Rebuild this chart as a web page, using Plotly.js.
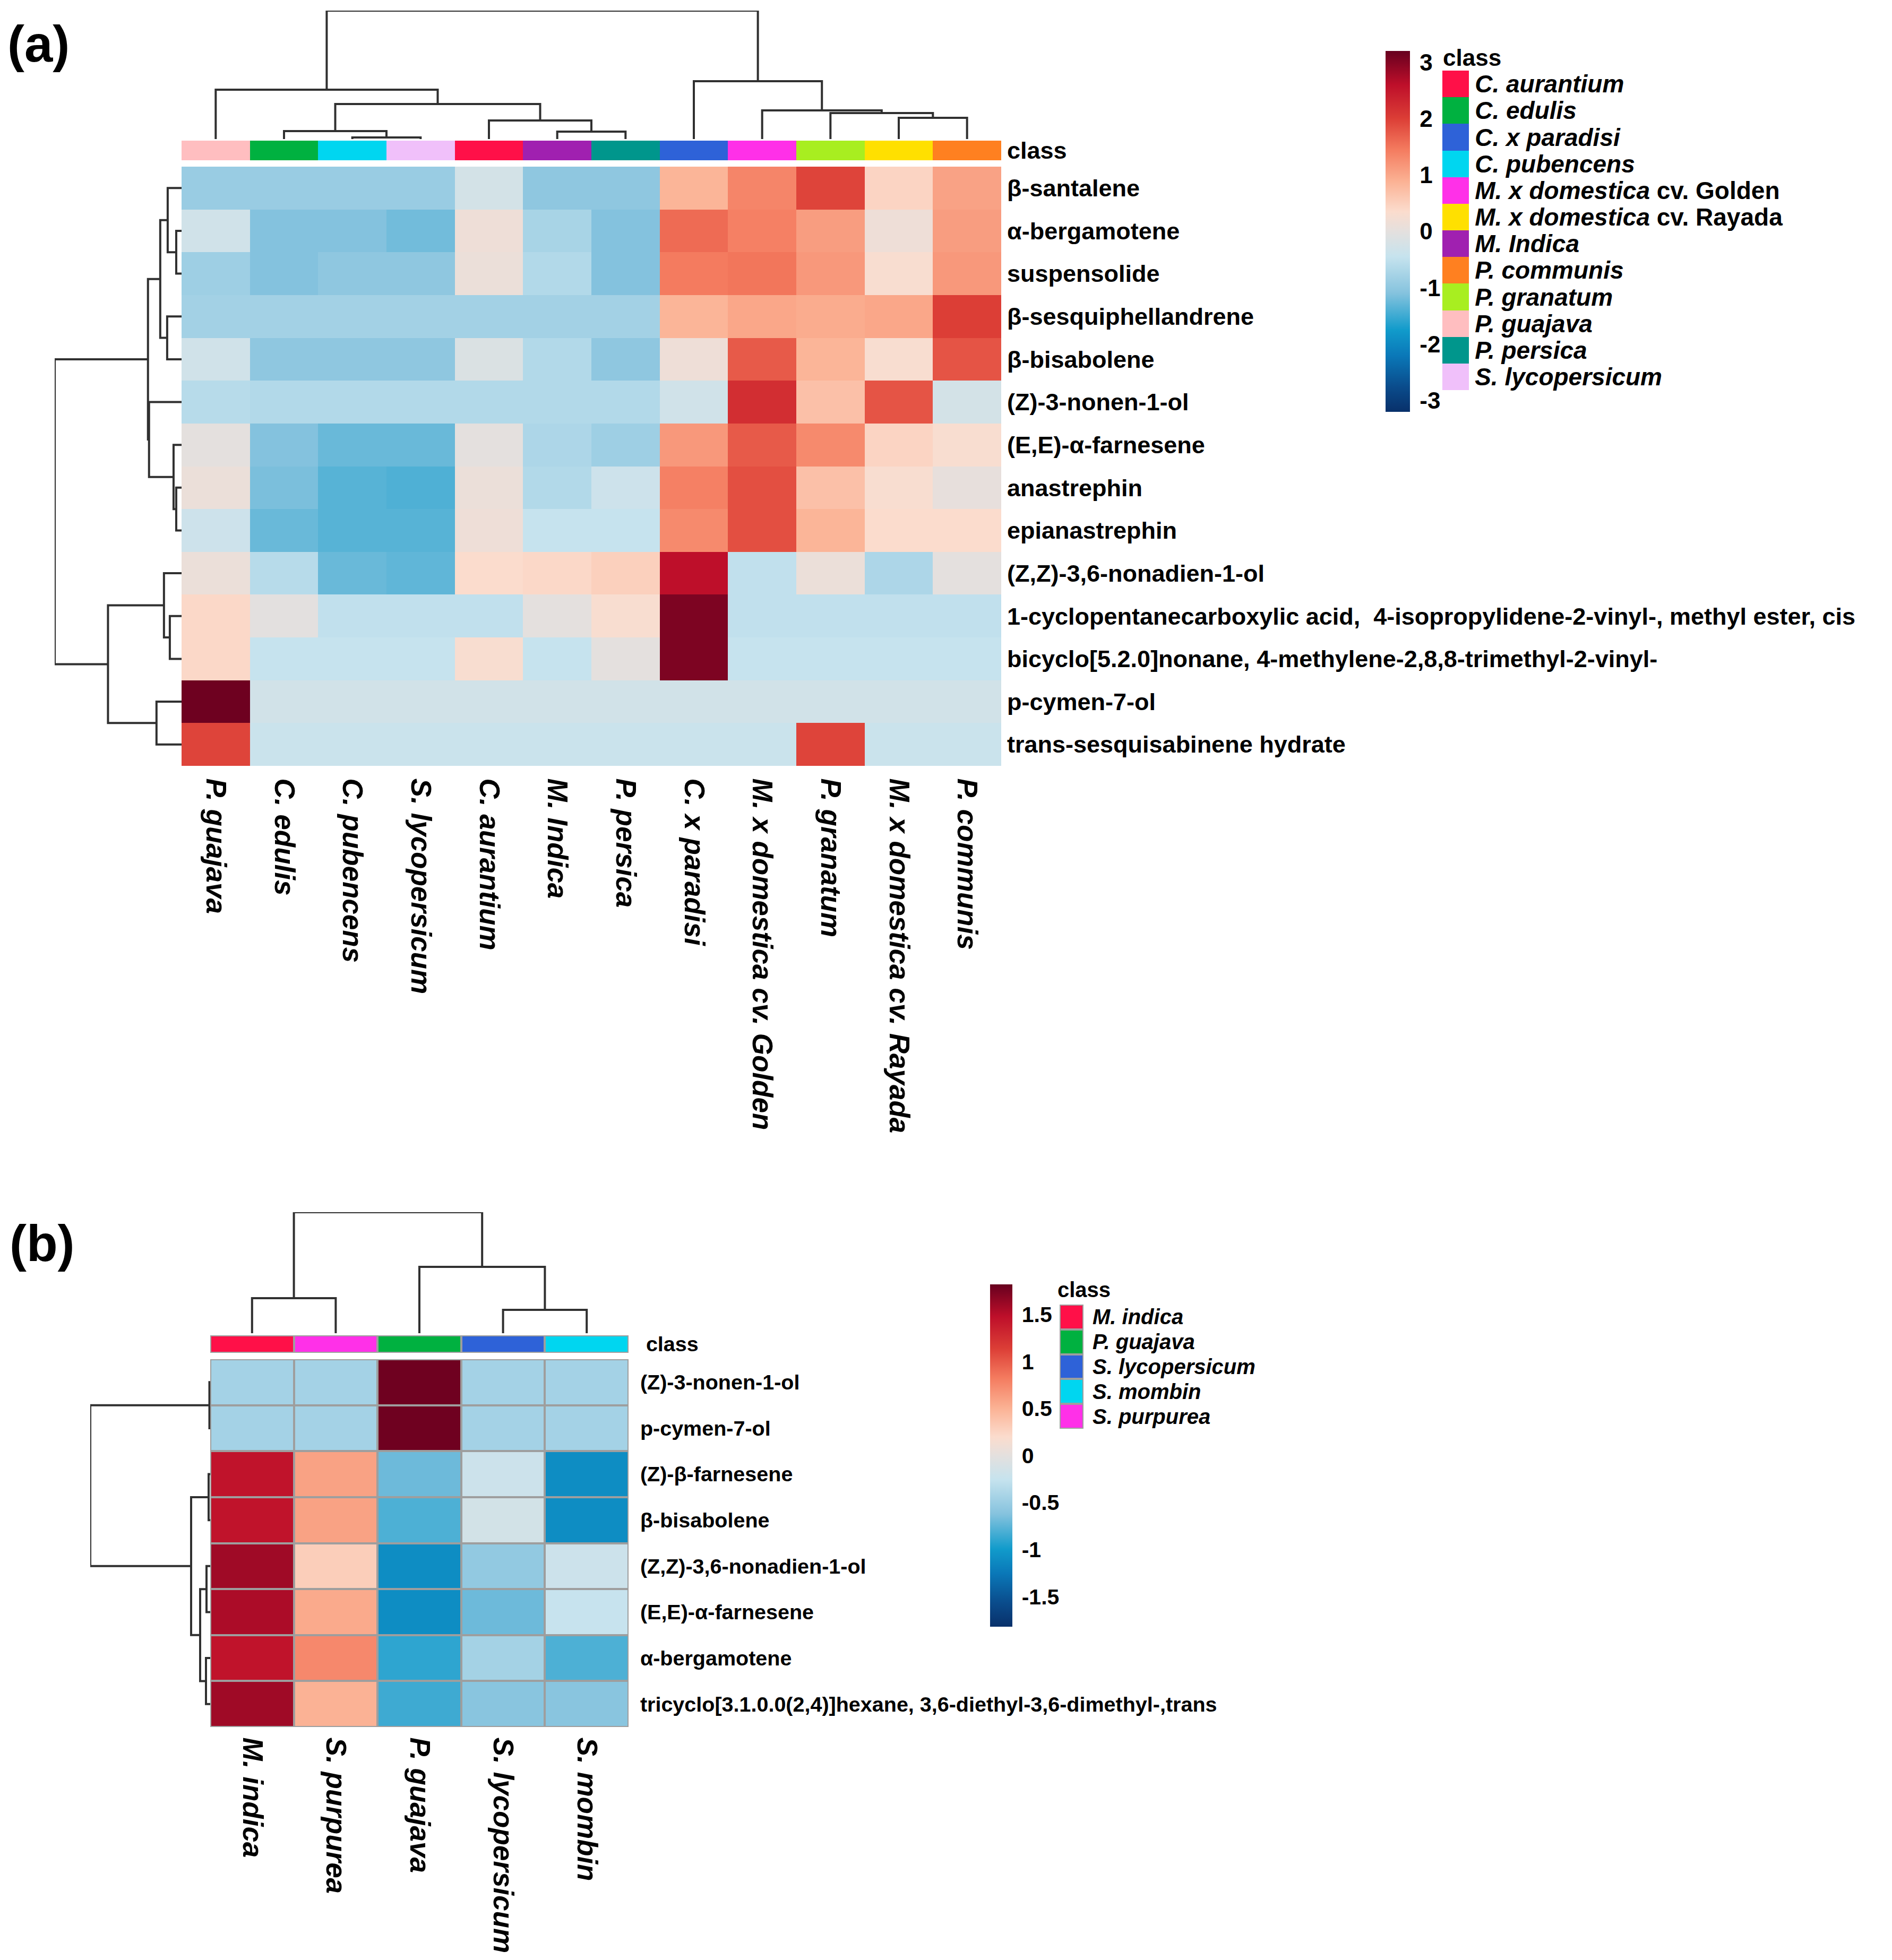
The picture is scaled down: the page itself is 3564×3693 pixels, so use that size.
<!DOCTYPE html>
<html>
<head>
<meta charset="utf-8">
<script src="https://cdn.plot.ly/plotly-3.0.1.min.js"></script>
<style>html,body{margin:0;padding:0;background:#fff;}</style>
</head>
<body>
<div id="chart" style="width:3564px;height:3693px;"></div>
<script>
// ---------------- DATA: panel (a) ----------------
const colsA = ["P. guajava","C. edulis","C. pubencens","S. lycopersicum","C. aurantium","M. Indica","P. persica","C. x paradisi","M. x domestica cv. Golden","P. granatum","M. x domestica cv. Rayada","P. communis"];
const rowsA = ["β-santalene","α-bergamotene","suspensolide","β-sesquiphellandrene","β-bisabolene","(Z)-3-nonen-1-ol","(E,E)-α-farnesene","anastrephin","epianastrephin","(Z,Z)-3,6-nonadien-1-ol","1-cyclopentanecarboxylic acid,  4-isopropylidene-2-vinyl-, methyl ester, cis","bicyclo[5.2.0]nonane, 4-methylene-2,8,8-trimethyl-2-vinyl-","p-cymen-7-ol","trans-sesquisabinene hydrate"];
const valuesA = [
  [-0.9,-0.9,-0.9,-0.9,-0.25,-1.0,-1.0,0.85,1.35,1.95,0.45,1.05],
  [-0.3,-1.1,-1.1,-1.2,0.15,-0.75,-1.1,1.6,1.4,1.1,0.15,1.1],
  [-0.85,-1.1,-1.0,-1.0,0.1,-0.65,-1.1,1.45,1.5,1.15,0.3,1.15],
  [-0.8,-0.8,-0.8,-0.8,-0.8,-0.8,-0.8,0.85,1.0,0.95,1.0,2.0],
  [-0.3,-1.0,-1.0,-1.0,-0.15,-0.65,-1.0,0.15,1.75,0.85,0.3,1.8],
  [-0.6,-0.65,-0.65,-0.65,-0.65,-0.65,-0.65,-0.3,2.2,0.7,1.8,-0.25],
  [0.0,-1.1,-1.25,-1.25,0.0,-0.7,-0.85,1.15,1.75,1.3,0.45,0.3],
  [0.1,-1.15,-1.35,-1.4,0.1,-0.65,-0.35,1.4,1.85,0.7,0.3,0.05],
  [-0.35,-1.25,-1.35,-1.35,0.15,-0.45,-0.45,1.3,1.85,0.85,0.35,0.35],
  [0.1,-0.6,-1.25,-1.3,0.35,0.4,0.5,2.6,-0.5,0.1,-0.7,0.0],
  [0.4,-0.02,-0.5,-0.5,-0.5,0.0,0.3,3.05,-0.5,-0.5,-0.5,-0.5],
  [0.4,-0.45,-0.45,-0.45,0.3,-0.45,0.0,3.05,-0.45,-0.45,-0.45,-0.45],
  [3.15,-0.29,-0.29,-0.29,-0.29,-0.29,-0.29,-0.29,-0.29,-0.29,-0.29,-0.29],
  [1.95,-0.39,-0.39,-0.39,-0.39,-0.39,-0.39,-0.39,-0.39,1.95,-0.39,-0.39]
];
const classesA = ["C. aurantium","C. edulis","C. x paradisi","C. pubencens","M. x domestica cv. Golden","M. x domestica cv. Rayada","M. Indica","P. communis","P. granatum","P. guajava","P. persica","S. lycopersicum"];
const classLabelsA = ["<i>C. aurantium</i>","<i>C. edulis</i>","<i>C. x paradisi</i>","<i>C. pubencens</i>","<i>M. x domestica</i> cv. Golden","<i>M. x domestica</i> cv. Rayada","<i>M. Indica</i>","<i>P. communis</i>","<i>P. granatum</i>","<i>P. guajava</i>","<i>P. persica</i>","<i>S. lycopersicum</i>"];
const classColorsA = ["#FF1048","#00B140","#2E62D8","#00D6F0","#FF30E8","#FFE000","#A020B0","#FF8020","#A8EE20","#FFBEC0","#00968C","#F0C0FA"];
// dendrograms: [node, node, height]; nodes < n are leaves, n+i is merge i
const colMergesA = [[2,3,3],[1,12,15],[5,6,14],[4,14,35],[13,15,66],[0,16,93],[10,11,40],[9,18,49],[8,19,54],[7,20,109],[17,21,242]];
const rowMergesA = [[1,2,10],[0,14,26],[3,4,27],[15,16,40],[7,8,10],[6,18,15],[5,19,61],[17,20,63],[10,11,22],[9,22,33],[12,13,47],[23,24,138],[21,25,238]];
const cbTicksA = [-3,-2,-1,0,1,2,3];

// ---------------- DATA: panel (b) ----------------
const colsB = ["M. indica","S. purpurea","P. guajava","S. lycopersicum","S. mombin"];
const rowsB = ["(Z)-3-nonen-1-ol","p-cymen-7-ol","(Z)-β-farnesene","β-bisabolene","(Z,Z)-3,6-nonadien-1-ol","(E,E)-α-farnesene","α-bergamotene","tricyclo[3.1.0.0(2,4)]hexane, 3,6-diethyl-3,6-dimethyl-,trans"];
const valuesB = [
  [-0.447,-0.447,1.789,-0.447,-0.447],
  [-0.447,-0.447,1.789,-0.447,-0.447],
  [1.45,0.6,-0.7,-0.2,-1.1],
  [1.45,0.6,-0.8,-0.15,-1.1],
  [1.6,0.3,-1.1,-0.55,-0.2],
  [1.55,0.55,-1.1,-0.7,-0.25],
  [1.45,0.75,-0.9,-0.45,-0.8],
  [1.6,0.5,-0.85,-0.6,-0.6]
];
const classesB = ["M. indica","P. guajava","S. lycopersicum","S. mombin","S. purpurea"];
const classColorsB = ["#FF1048","#00B140","#2E62D8","#00D6F0","#FF30E8"];
const colMergesB = [[0,1,66],[3,4,44],[2,6,125],[5,7,228]];
const rowMergesB = [[0,1,1.5],[2,3,3],[4,5,7],[6,7,8],[10,11,19],[9,12,36],[8,13,226]];
const cbTicksB = [-1.5,-1,-0.5,0,0.5,1,1.5];

// ---------------- helpers ----------------
const W = 3564, H = 3693;
const xd = (a,b) => [a/W, b/W];
const yd = (top,bottom) => [1-bottom/H, 1-top/H];
const SANS = '"Liberation Sans",Arial,sans-serif';
const scale = [[0,'#08306A'],[0.07,'#0A4C8C'],[0.156,'#0A78B8'],[0.227,'#119BCB'],[0.33,'#86C3DE'],[0.43,'#C6E3EE'],[0.5,'#E4E0DE'],[0.555,'#FBDCCD'],[0.64,'#FBB193'],[0.727,'#F47B5F'],[0.8125,'#DC3E36'],[0.906,'#BE0F2A'],[1,'#67001F']];
function discrete(colors){
  const n = colors.length, s = [];
  colors.forEach((c,i)=>{ s.push([i/n,c]); s.push([(i+1)/n,c]); });
  return s;
}
function dendro(merges, n){
  const pos=[], hgt=[];
  for(let i=0;i<n;i++){pos.push(i);hgt.push(0);}
  const p=[], h=[];
  merges.forEach(([a,b,d])=>{
    p.push(pos[a],pos[a],pos[b],pos[b],null);
    h.push(hgt[a],d,d,hgt[b],null);
    pos.push((pos[a]+pos[b])/2); hgt.push(d);
  });
  return {p,h};
}
const idx = n => Array.from({length:n},(_,i)=>i);
const hidden = extra => Object.assign({showgrid:false,zeroline:false,showline:false,showticklabels:false,ticks:''},extra);

const traces = [];
// ---- panel (a) ----
traces.push({type:'heatmap', x:idx(colsA.length), y:idx(rowsA.length), z:valuesA, xaxis:'x', yaxis:'y',
  colorscale:scale, zmin:-3.2, zmax:3.2, hoverinfo:'skip',
  colorbar:{x:2610/W, xanchor:'left', y:1-96/H, yanchor:'top', len:680/H, lenmode:'fraction', thickness:46, thicknessmode:'pixels',
    xpad:0, ypad:0, outlinewidth:0, tickvals:cbTicksA, ticktext:cbTicksA.map(String), ticks:'outside', ticklen:10, tickcolor:'rgba(0,0,0,0)',
    tickfont:{family:SANS, size:44, color:'#000', weight:'bold'}}});
traces.push({type:'heatmap', x:idx(colsA.length), y:[0], z:[colsA.map(c=>classesA.indexOf(c))], xaxis:'x', yaxis:'y2',
  colorscale:discrete(classColorsA), zmin:-0.5, zmax:classesA.length-0.5, showscale:false, hoverinfo:'skip'});
const cdA = dendro(colMergesA, colsA.length);
traces.push({type:'scatter', mode:'lines', x:cdA.p, y:cdA.h, xaxis:'x', yaxis:'y3', line:{color:'#303030', width:4}, hoverinfo:'skip', cliponaxis:false, showlegend:false});
const rdA = dendro(rowMergesA, rowsA.length);
traces.push({type:'scatter', mode:'lines', x:rdA.h, y:rdA.p, xaxis:'x2', yaxis:'y', line:{color:'#303030', width:4}, hoverinfo:'skip', cliponaxis:false, showlegend:false});
traces.push({type:'heatmap', x:[0], y:idx(classesA.length), z:classesA.map((c,i)=>[i]), xaxis:'x3', yaxis:'y4',
  colorscale:discrete(classColorsA), zmin:-0.5, zmax:classesA.length-0.5, showscale:false, hoverinfo:'skip'});

// ---- panel (b) ----
traces.push({type:'heatmap', x:idx(colsB.length), y:idx(rowsB.length), z:valuesB, xaxis:'x4', yaxis:'y5',
  colorscale:scale, zmin:-1.82, zmax:1.82, xgap:4, ygap:4, hoverinfo:'skip',
  colorbar:{x:1865/W, xanchor:'left', y:1-2420/H, yanchor:'top', len:645/H, lenmode:'fraction', thickness:42, thicknessmode:'pixels',
    xpad:0, ypad:0, outlinewidth:0, tickvals:cbTicksB, ticktext:cbTicksB.map(String), ticks:'outside', ticklen:10, tickcolor:'rgba(0,0,0,0)',
    tickfont:{family:SANS, size:41, color:'#000', weight:'bold'}}});
traces.push({type:'heatmap', x:idx(colsB.length), y:[0], z:[colsB.map(c=>classesB.indexOf(c))], xaxis:'x4', yaxis:'y6',
  colorscale:discrete(classColorsB), zmin:-0.5, zmax:classesB.length-0.5, xgap:4, ygap:4, showscale:false, hoverinfo:'skip'});
const cdB = dendro(colMergesB, colsB.length);
traces.push({type:'scatter', mode:'lines', x:cdB.p, y:cdB.h, xaxis:'x4', yaxis:'y7', line:{color:'#303030', width:4}, hoverinfo:'skip', cliponaxis:false, showlegend:false});
const rdB = dendro(rowMergesB, rowsB.length);
traces.push({type:'scatter', mode:'lines', x:rdB.h, y:rdB.p, xaxis:'x5', yaxis:'y5', line:{color:'#303030', width:4}, hoverinfo:'skip', cliponaxis:false, showlegend:false});
traces.push({type:'heatmap', x:[0], y:idx(classesB.length), z:classesB.map((c,i)=>[i]), xaxis:'x6', yaxis:'y8',
  colorscale:discrete(classColorsB), zmin:-0.5, zmax:classesB.length-0.5, ygap:4, xgap:4, showscale:false, hoverinfo:'skip'});

const colFont = {family:SANS, size:53, color:'#000', weight:'bold', style:'italic'};
const layout = {
  width:W, height:H, margin:{l:0,r:0,t:0,b:0}, paper_bgcolor:'#fff', plot_bgcolor:'rgba(0,0,0,0)', showlegend:false,
  // panel (a)
  xaxis:{domain:xd(342,1886), anchor:'y', range:[-0.5,colsA.length-0.5], showgrid:false, zeroline:false, showline:false,
    tickmode:'array', tickvals:idx(colsA.length), ticktext:colsA, tickangle:90, ticks:'outside', ticklen:12, tickcolor:'rgba(0,0,0,0)', tickfont:colFont},
  yaxis:{domain:yd(314,1443), anchor:'x', side:'right', range:[rowsA.length-0.5,-0.5], showgrid:false, zeroline:false, showline:false,
    tickmode:'array', tickvals:idx(rowsA.length), ticktext:rowsA, ticks:'outside', ticklen:1, tickcolor:'rgba(0,0,0,0)',
    tickfont:{family:SANS, size:45, color:'#000', weight:'bold'}},
  yaxis2:{domain:yd(265,302), anchor:'x', side:'right', range:[-0.5,0.5], showgrid:false, zeroline:false, showline:false,
    tickmode:'array', tickvals:[0], ticktext:['class'], ticks:'outside', ticklen:1, tickcolor:'rgba(0,0,0,0)',
    tickfont:{family:SANS, size:45, color:'#000', weight:'bold'}},
  yaxis3:hidden({domain:yd(20,262), anchor:'x', range:[0,242]}),
  xaxis2:hidden({domain:xd(103,342), anchor:'y', range:[238,0]}),
  xaxis3:hidden({domain:xd(2717,2767), anchor:'y4', range:[-0.5,0.5]}),
  yaxis4:{domain:yd(133,735), anchor:'x3', side:'right', range:[classesA.length-0.5,-0.5], showgrid:false, zeroline:false, showline:false,
    tickmode:'array', tickvals:idx(classesA.length), ticktext:classLabelsA, ticks:'outside', ticklen:1, tickcolor:'rgba(0,0,0,0)',
    tickfont:{family:SANS, size:46, color:'#000', weight:'bold'}},
  // panel (b)
  xaxis4:{domain:xd(396,1184), anchor:'y5', range:[-0.5,colsB.length-0.5], showgrid:false, zeroline:false, showline:false,
    tickmode:'array', tickvals:idx(colsB.length), ticktext:colsB, tickangle:90, ticks:'outside', ticklen:8, tickcolor:'rgba(0,0,0,0)', tickfont:colFont},
  yaxis5:{domain:yd(2561,3254), anchor:'x4', side:'right', range:[rowsB.length-0.5,-0.5], showgrid:false, zeroline:false, showline:false,
    tickmode:'array', tickvals:idx(rowsB.length), ticktext:rowsB, ticks:'outside', ticklen:13, tickcolor:'rgba(0,0,0,0)',
    tickfont:{family:SANS, size:39.5, color:'#000', weight:'bold'}},
  yaxis6:{domain:yd(2516,2549), anchor:'x4', side:'right', range:[-0.5,0.5], showgrid:false, zeroline:false, showline:false,
    tickmode:'array', tickvals:[0], ticktext:['class'], ticks:'outside', ticklen:24, tickcolor:'rgba(0,0,0,0)',
    tickfont:{family:SANS, size:39.5, color:'#000', weight:'bold'}},
  yaxis7:hidden({domain:yd(2284,2512), anchor:'x4', range:[0,228]}),
  xaxis5:hidden({domain:xd(170,396), anchor:'y5', range:[226,0]}),
  xaxis6:hidden({domain:xd(1996,2041), anchor:'y8', range:[-0.5,0.5]}),
  yaxis8:{domain:yd(2458,2692), anchor:'x6', side:'right', range:[classesB.length-0.5,-0.5], showgrid:false, zeroline:false, showline:false,
    tickmode:'array', tickvals:idx(classesB.length), ticktext:classesB.map(c=>'<i>'+c+'</i>'), ticks:'outside', ticklen:8, tickcolor:'rgba(0,0,0,0)',
    tickfont:{family:SANS, size:40, color:'#000', weight:'bold'}},
  shapes:[
    {type:'rect', xref:'x4 domain', yref:'y5 domain', x0:0, x1:1, y0:0, y1:1, fillcolor:'#9E9E9E', line:{width:0}, layer:'below'},
    {type:'rect', xref:'x4 domain', yref:'y6 domain', x0:0, x1:1, y0:0, y1:1, fillcolor:'#9E9E9E', line:{width:0}, layer:'below'},
    {type:'rect', xref:'x6 domain', yref:'y8 domain', x0:0, x1:1, y0:0, y1:1, fillcolor:'#9E9E9E', line:{width:0}, layer:'below'}
  ],
  annotations:[
    {text:'(a)', xref:'paper', yref:'paper', x:72/W, y:1-82/H, xanchor:'center', yanchor:'middle', showarrow:false,
      font:{family:SANS, size:96, color:'#000', weight:'bold'}},
    {text:'(b)', xref:'paper', yref:'paper', x:79/W, y:1-2342/H, xanchor:'center', yanchor:'middle', showarrow:false,
      font:{family:SANS, size:96, color:'#000', weight:'bold'}},
    {text:'class', xref:'paper', yref:'paper', x:2716/W, y:1-108/H, xanchor:'left', yanchor:'middle', showarrow:false,
      font:{family:SANS, size:44, color:'#000', weight:'bold'}},
    {text:'class', xref:'paper', yref:'paper', x:1990/W, y:1-2430/H, xanchor:'left', yanchor:'middle', showarrow:false,
      font:{family:SANS, size:40, color:'#000', weight:'bold'}}
  ]
};
Plotly.newPlot('chart', traces, layout, {displayModeBar:false, staticPlot:true});
</script>
</body>
</html>
